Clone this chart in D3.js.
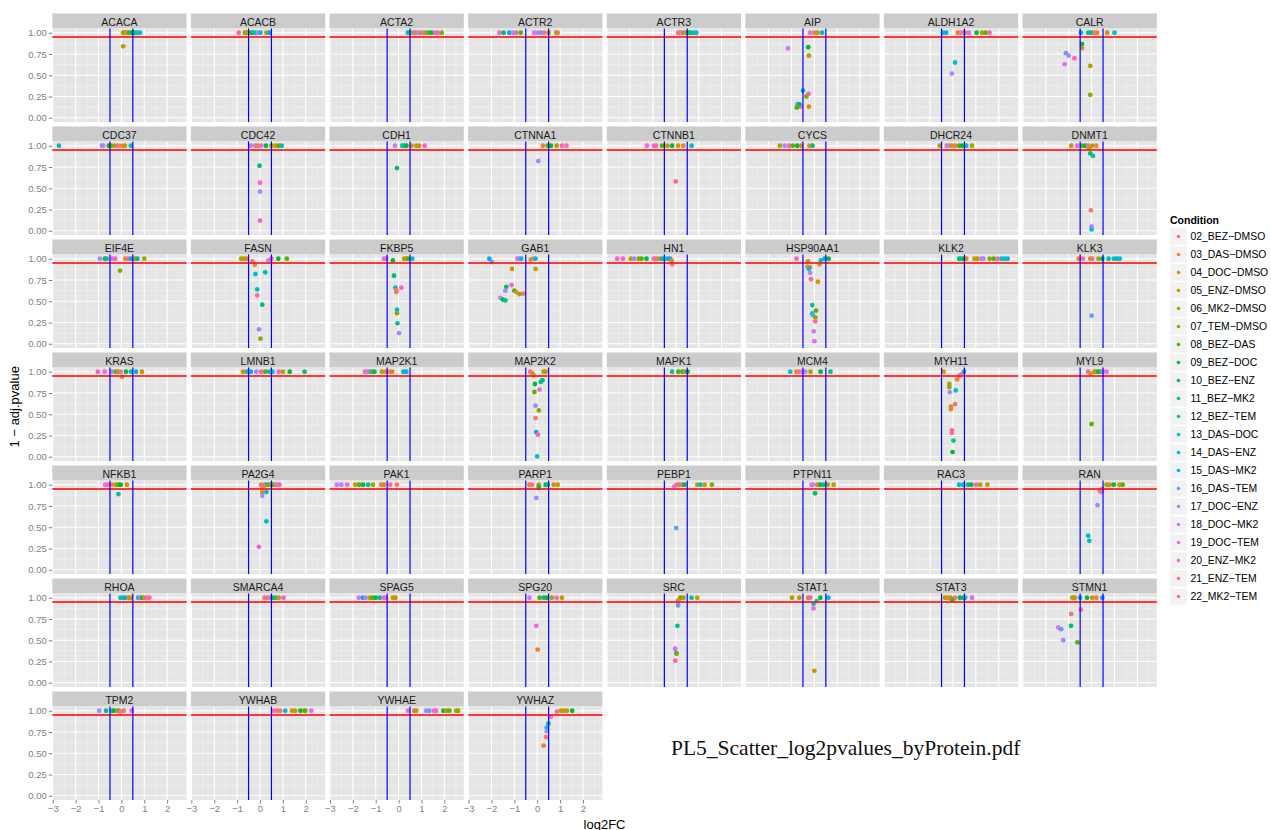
<!DOCTYPE html>
<html>
<head>
<meta charset="utf-8">
<script src="https://cdn.jsdelivr.net/npm/d3@7"></script>
<style>
  html, body { margin: 0; padding: 0; background: #ffffff; }
  svg { display: block; font-family: "Liberation Sans", Arial, Helvetica, sans-serif; }
</style>
</head>
<body>
<script>
// ---- conditions (colour legend) ----
const conditions = [
  "02_BEZ-DMSO", "03_DAS-DMSO", "04_DOC-DMSO", "05_ENZ-DMSO", "06_MK2-DMSO",
  "07_TEM-DMSO", "08_BEZ-DAS", "09_BEZ-DOC", "10_BEZ-ENZ", "11_BEZ-MK2",
  "12_BEZ-TEM", "13_DAS-DOC", "14_DAS-ENZ", "15_DAS-MK2", "16_DAS-TEM",
  "17_DOC-ENZ", "18_DOC-MK2", "19_DOC-TEM", "20_ENZ-MK2", "21_ENZ-TEM",
  "22_MK2-TEM"
];

// ---- facets ----
const proteins = [
  "ACACA", "ACACB", "ACTA2", "ACTR2", "ACTR3", "AIP", "ALDH1A2", "CALR",
  "CDC37", "CDC42", "CDH1", "CTNNA1", "CTNNB1", "CYCS", "DHCR24", "DNMT1",
  "EIF4E", "FASN", "FKBP5", "GAB1", "HN1", "HSP90AA1", "KLK2", "KLK3",
  "KRAS", "LMNB1", "MAP2K1", "MAP2K2", "MAPK1", "MCM4", "MYH11", "MYL9",
  "NFKB1", "PA2G4", "PAK1", "PARP1", "PEBP1", "PTPN11", "RAC3", "RAN",
  "RHOA", "SMARCA4", "SPAG5", "SPG20", "SRC", "STAT1", "STAT3", "STMN1",
  "TPM2", "YWHAB", "YWHAE", "YWHAZ"
];

// ---- per-protein measurements: [condition index, log2FC, 1 - adj.pvalue] ----
const ACACA = [[3,0.07,1],[5,0.12,1],[2,0.2,1],[1,0.27,1],[6,0.33,1],[7,0.45,1],[8,0.55,1],[9,0.62,1],[10,0.7,1],[11,0.82,1],[4,0.08,0.84]];
const ACACB = [[19,-0.93,1],[6,-0.66,1],[4,-0.6,1],[3,-0.52,1],[1,-0.45,1],[7,-0.36,1],[9,-0.28,1],[10,-0.18,1],[16,-0.08,1],[12,0.02,1],[2,0.28,1],[13,0.4,1]];
const ACTA2 = [[11,0.4,1],[9,0.47,1],[2,0.58,1],[15,0.68,1],[1,0.76,1],[16,0.85,1],[3,0.97,1],[17,1.08,1],[4,1.2,1],[6,1.32,1],[7,1.45,1],[18,1.6,1],[19,1.72,1],[5,1.89,1]];
const ACTR2 = [[18,-1.65,1],[8,-1.47,1],[13,-1.22,1],[15,-1.05,1],[19,-0.92,1],[6,-0.72,1],[16,-0.14,1],[17,0.0,1],[14,0.15,1],[20,0.3,1],[2,0.5,1],[4,0.83,1],[1,0.9,1]];
const ACTR3 = [[20,0.1,1],[1,0.18,1],[17,0.25,1],[4,0.35,1],[2,0.45,1],[7,0.55,1],[9,0.65,1],[10,0.78,1],[11,0.9,1]];
const AIP = [[17,-0.19,1],[1,0,1],[3,0.13,1],[10,0.33,1],[16,-1.16,0.816],[7,-0.27,0.83],[4,-0.24,0.73],[11,-0.5,0.32],[19,-0.26,0.28],[5,-0.35,0.25],[15,-0.75,0.16],[20,-0.61,0.13],[6,-0.77,0.12],[8,-0.66,0.16],[2,-0.24,0.13]];
const ALDH1A2 = [[12,-0.44,1],[13,-0.3,1],[2,0.21,1],[20,0.32,1],[16,0.45,1],[1,0.53,1],[17,0.7,1],[7,1.03,1],[4,1.27,1],[6,1.43,1],[19,1.6,1],[11,0.09,0.65],[15,-0.05,0.52]];
const CALR = [[13,-0.47,1],[9,-0.15,1],[10,-0.06,1],[8,0.03,1],[20,0.12,1],[1,0.24,1],[2,0.68,1],[11,1.0,1],[7,-0.42,0.867],[3,-0.42,0.82],[14,-1.12,0.76],[15,-1.0,0.73],[19,-0.75,0.7],[16,-1.18,0.63],[4,-0.06,0.61],[5,-0.06,0.27]];
const CDC37 = [[11,-2.73,1],[16,-0.85,1],[15,-0.8,1],[7,-0.55,1],[6,-0.45,1],[4,-0.3,1],[20,-0.15,1],[1,0.03,1],[3,0.15,1],[10,0.41,1]];
const CDC42 = [[16,-0.39,1],[20,-0.2,1],[1,-0.08,1],[17,0.05,1],[7,0.26,1],[4,0.5,1],[2,0.68,1],[6,0.82,1],[10,0.95,1],[8,-0.02,0.765],[18,0,0.565],[15,0,0.46],[19,0,0.12]];
const CDH1 = [[16,-0.16,1],[10,0.16,1],[9,0.25,1],[7,0.34,1],[1,0.57,1],[4,0.78,1],[3,0.9,1],[19,1.14,1],[8,-0.07,0.737]];
const CTNNA1 = [[1,0.25,1],[6,0.46,1],[7,0.6,1],[4,0.85,1],[19,1.08,1],[20,1.28,1],[15,0.05,0.82]];
const CTNNB1 = [[17,-1.26,1],[19,-0.96,1],[18,-0.86,1],[6,-0.6,1],[4,-0.37,1],[7,-0.16,1],[3,0.1,1],[1,0.33,1],[12,0.69,1],[20,0,0.58]];
const CYCS = [[4,-1.51,1],[15,-1.3,1],[19,-1.1,1],[6,-0.95,1],[7,-0.75,1],[3,-0.57,1],[1,-0.22,1],[8,-0.08,1]];
const DHCR24 = [[3,-0.58,1],[20,-0.27,1],[15,-0.18,1],[2,-0.05,1],[1,0.09,1],[6,0.27,1],[7,0.4,1],[11,0.58,1],[4,0.83,1]];
const DNMT1 = [[2,-0.89,1],[17,-0.63,1],[6,-0.42,1],[7,-0.28,1],[20,-0.15,1],[4,0.03,1],[1,0.2,1],[3,-0.1,0.97],[8,-0.06,0.91],[10,0.06,0.88],[0,-0.03,0.24],[16,0,0.05],[11,0,0.016]];
const EIF4E = [[15,-0.94,1],[7,-0.72,1],[9,-0.65,1],[17,-0.4,1],[19,-0.27,1],[1,0.17,1],[20,0.3,1],[13,0.42,1],[3,0.6,1],[8,0.7,1],[4,1.0,1],[5,-0.06,0.86]];
const FASN = [[4,-0.82,1],[3,-0.7,1],[2,-0.6,1],[0,-0.33,0.97],[1,-0.23,0.93],[17,0.37,0.98],[19,0.5,1],[7,0.8,1],[6,1.17,1],[11,-0.2,0.82],[9,0.23,0.84],[10,-0.12,0.64],[20,-0.12,0.57],[8,0.1,0.46],[15,-0.04,0.17],[5,0.02,0.06]];
const FKBP5 = [[17,-0.64,1],[19,-0.55,1],[7,-0.25,0.98],[4,0.25,1],[3,0.33,1],[6,0.42,1],[11,0.6,1],[8,-0.2,0.8],[10,-0.14,0.66],[20,-0.1,0.63],[1,-0.1,0.61],[18,0.12,0.66],[12,-0.07,0.4],[5,-0.07,0.36],[9,-0.05,0.24],[15,0.02,0.125]];
const GAB1 = [[13,-2.09,1],[14,-1.98,0.96],[19,-0.86,1],[17,-0.77,1],[12,-0.7,1],[4,-0.28,0.99],[20,-0.16,1],[11,-0.07,1],[2,-1.1,0.88],[3,-0.07,0.88],[18,-1.12,0.69],[8,-1.35,0.67],[15,-1.39,0.625],[6,-1.0,0.625],[1,-0.91,0.605],[5,-0.77,0.585],[0,-0.6,0.59],[16,-1.61,0.54],[7,-1.5,0.52],[9,-1.39,0.51]];
const HN1 = [[19,-2.56,1],[18,-2.31,1],[3,-1.97,1],[15,-1.82,1],[5,-1.62,1],[6,-1.5,1],[7,-1.28,1],[17,-0.97,1],[0,-0.87,1],[1,-0.77,1],[9,-0.62,1],[10,-0.5,1],[11,-0.35,1],[13,-0.25,1],[2,-0.18,0.977],[20,-0.16,0.936]];
const HSP90AA1 = [[19,-0.78,1],[10,0.28,0.98],[13,0.45,1],[7,0.62,1],[4,-0.28,0.97],[0,-0.3,0.906],[3,-0.2,0.9],[11,-0.24,0.88],[15,-0.19,0.835],[1,0.22,0.934],[20,-0.15,0.76],[2,0.15,0.73],[9,-0.09,0.455],[6,0.07,0.39],[12,-0.09,0.357],[14,-0.08,0.34],[5,0.04,0.31],[20,0.04,0.264],[16,-0.03,0.146],[17,0,0.03]];
const KLK2 = [[8,0.27,1],[9,0.36,1],[7,0.48,1],[2,0.58,1],[3,0.94,1],[4,1.06,1],[17,1.24,1],[15,1.33,1],[5,1.6,1],[6,1.78,1],[19,1.95,1],[11,2.13,1],[10,2.26,1],[12,2.39,1]];
const KLK3 = [[1,-0.56,1],[19,-0.38,1],[2,-0.06,1],[20,0.03,1],[4,0.3,1],[7,0.47,1],[10,0.74,1],[11,0.97,1],[9,1.09,1],[12,1.23,1],[14,0,0.33]];
const KRAS = [[19,-1.03,1],[17,-0.73,1],[15,-0.42,1],[6,-0.24,1],[4,-0.15,1],[20,-0.03,1],[7,0.2,1],[10,0.42,1],[13,0.64,1],[2,0.9,1],[1,0.03,0.94]];
const LMNB1 = [[2,-0.74,1],[11,-0.57,1],[13,-0.4,1],[15,-0.16,1],[19,0.05,1],[6,0.23,1],[10,0.4,1],[12,0.55,1],[18,0.82,1],[4,1.0,1],[7,1.3,1],[8,1.95,1]];
const MAP2K1 = [[19,-1.47,1],[16,-1.35,1],[14,-1.25,1],[6,-1.15,1],[8,-1.05,1],[4,-0.73,1],[1,-0.55,1],[20,-0.37,1],[2,-0.28,1],[10,0.21,1],[13,0.33,1]];
const MAP2K2 = [[20,-0.3,1],[1,-0.21,0.98],[3,-0.16,0.96],[8,0.23,0.9],[9,0.16,0.88],[4,0.28,1],[2,0.37,1],[7,-0.1,0.856],[6,-0.12,0.763],[18,0.1,0.79],[15,-0.07,0.6],[5,0.07,0.545],[0,-0.07,0.455],[13,-0.04,0.29],[19,0.03,0.26],[11,0,0.004]];
const MAPK1 = [[10,-0.16,1],[6,0.11,1],[8,0.29,1],[4,0.37,1],[7,0.52,1]];
const MCM4 = [[11,-1.05,1],[1,-0.79,1],[0,-0.66,1],[17,-0.52,1],[15,-0.4,1],[4,-0.17,1],[7,0.27,1],[9,0.7,1]];
const MYH11 = [[2,-0.41,1],[13,0.48,1],[18,0.36,0.97],[20,0.27,0.95],[1,0.18,0.91],[4,-0.16,0.856],[5,-0.16,0.82],[11,0.12,0.78],[15,-0.14,0.76],[0,0.09,0.62],[3,-0.09,0.59],[1,-0.09,0.56],[19,-0.05,0.31],[20,-0.05,0.28],[9,0.02,0.19],[7,-0.02,0.055]];
const MYL9 = [[20,-0.15,1],[1,-0.06,0.98],[4,0.12,1],[3,0.2,1],[7,0.3,1],[9,0.4,1],[19,0.5,1],[17,0.65,1],[6,0,0.385]];
const NFKB1 = [[17,-0.71,1],[19,-0.59,1],[1,-0.42,1],[4,-0.24,1],[6,-0.12,1],[7,-0.03,1],[3,0.24,1],[9,-0.13,0.89]];
const PA2G4 = [[1,0.05,1],[10,0.23,1],[6,0.35,1],[4,0.45,1],[7,0.55,1],[3,0.65,1],[17,0.75,1],[19,0.85,1],[20,0.1,0.97],[0,0.17,0.98],[2,0.1,0.91],[15,0.1,0.87],[11,0.28,0.914],[10,0.28,0.57],[18,-0.05,0.27]];
const PAK1 = [[16,-2.7,1],[15,-2.5,1],[17,-2.25,1],[3,-1.9,1],[6,-1.72,1],[7,-1.55,1],[9,-1.33,1],[4,-1.12,1],[1,-0.76,1],[2,-0.64,1],[18,-0.37,1],[0,-0.07,1]];
const PARP1 = [[1,-0.34,1],[20,-0.22,1],[4,0.07,1],[7,0.37,1],[9,0.46,1],[2,0.72,1],[3,0.9,1],[6,0.07,0.98],[8,0.07,0.96],[15,-0.04,0.845]];
const PEBP1 = [[17,-0.07,0.98],[20,0.05,1],[1,0.16,1],[19,0.28,1],[7,0.37,1],[4,0.94,1],[10,1.08,1],[3,1.26,1],[5,1.58,1],[14,0.02,0.49]];
const PTPN11 = [[17,-0.13,1],[16,-0.06,1],[2,0.13,1],[7,0.26,1],[9,0.4,1],[4,0.58,1],[3,0.84,1],[8,0.03,0.9]];
const RAC3 = [[10,0.27,1],[13,0.45,1],[9,0.66,1],[7,0.8,1],[19,1.01,1],[4,1.19,1],[3,1.5,1]];
const RAN = [[4,0.65,1],[2,0.79,1],[7,0.97,1],[3,1.22,1],[6,1.36,1],[1,0.35,0.93],[17,0.42,0.914],[20,0.47,0.95],[15,0.26,0.76],[11,-0.15,0.4],[10,-0.1,0.34]];
const RHOA = [[10,-0.04,1],[11,0.08,1],[13,0.17,1],[4,0.31,1],[2,0.41,1],[12,0.73,1],[17,0.82,1],[7,0.91,1],[3,1.0,1],[19,1.12,1],[20,1.22,1]];
const SMARCA4 = [[20,0.2,1],[1,0.32,1],[17,0.41,1],[7,0.55,1],[9,0.68,1],[4,0.82,1],[18,1.03,1]];
const SPAG5 = [[16,-1.74,1],[13,-1.56,1],[15,-1.44,1],[4,-1.26,1],[6,-1.14,1],[7,-1.0,1],[9,-0.82,1],[17,-0.64,1],[19,-0.55,1],[3,-0.25,1],[2,-0.14,1]];
const SPG20 = [[16,-0.34,1],[6,0.1,1],[9,0.28,1],[7,0.42,1],[4,0.64,1],[19,0.85,1],[3,1.08,1],[17,-0.04,0.67],[1,0.02,0.39]];
const SRC = [[6,0.2,1],[4,0.34,1],[11,0.69,1],[3,0.94,1],[0,0.1,0.95],[1,0.1,0.97],[14,0.1,0.91],[9,0.07,0.67],[17,-0.03,0.4],[13,0.02,0.35],[5,0.04,0.34],[19,-0.02,0.26]];
const STAT1 = [[4,-0.98,1],[2,-0.66,1],[3,-0.27,1],[19,-0.18,1],[7,0.26,1],[12,0.61,1],[10,-0.04,0.93],[9,0.1,0.96],[17,-0.04,0.875],[2,0,0.14]];
const STAT3 = [[3,-0.35,1],[1,-0.23,1],[4,-0.1,1],[20,0.09,1],[7,0.3,1],[8,0.45,1],[11,0.53,1],[17,0.83,1],[6,-0.03,0.97]];
const STMN1 = [[4,-0.84,1],[2,-0.73,1],[12,-0.5,1],[7,-0.2,1],[3,0.03,1],[1,0.21,1],[13,0.47,1],[19,-0.47,0.86],[0,-0.89,0.81],[8,-0.9,0.67],[16,-1.46,0.65],[14,-1.33,0.63],[15,-1.24,0.5],[6,-0.62,0.475]];
const TPM2 = [[15,-0.97,1],[9,-0.67,1],[10,-0.41,1],[7,-0.32,1],[4,-0.18,1],[6,-0.1,1],[20,-0.06,0.99],[0,0.1,1],[17,0.45,1]];
const YWHAB = [[20,0.58,1],[19,0.75,1],[1,0.88,1],[12,1.1,1],[3,1.4,1],[2,1.54,1],[7,1.77,1],[4,1.94,1],[6,1.98,1],[17,2.24,1]];
const YWHAE = [[17,0.41,1],[1,0.68,1],[3,0.77,1],[15,1.2,1],[14,1.34,1],[19,1.55,1],[18,1.64,1],[7,1.96,1],[4,2.08,1],[6,2.22,1],[3,2.52,1],[5,2.6,1]];
const YWHAZ = [[20,0.86,0.99],[4,1.04,1],[2,1.16,1],[3,1.3,1],[7,1.53,1],[17,0.6,0.93],[9,0.49,0.85],[12,0.42,0.8],[15,0.42,0.76],[0,0.39,0.69],[1,0.28,0.59]];

const panelData = [
  ACACA, ACACB, ACTA2, ACTR2, ACTR3, AIP, ALDH1A2, CALR,
  CDC37, CDC42, CDH1, CTNNA1, CTNNB1, CYCS, DHCR24, DNMT1,
  EIF4E, FASN, FKBP5, GAB1, HN1, HSP90AA1, KLK2, KLK3,
  KRAS, LMNB1, MAP2K1, MAP2K2, MAPK1, MCM4, MYH11, MYL9,
  NFKB1, PA2G4, PAK1, PARP1, PEBP1, PTPN11, RAC3, RAN,
  RHOA, SMARCA4, SPAG5, SPG20, SRC, STAT1, STAT3, STMN1,
  TPM2, YWHAB, YWHAE, YWHAZ
];

// ---- axis ticks and reference thresholds ----
const xTicks = [-3, -2, -1, 0, 1, 2];
const xMinor = [-2.5, -1.5, -0.5, 0.5, 1.5, 2.5];
const yTicks = [0, 0.25, 0.5, 0.75, 1];
const yMinor = [0.125, 0.375, 0.625, 0.875];
const pThreshold = 0.95;
const fcThresholds = [-0.5, 0.5];

// ---- hue palette (polar LUV, c = 100, l = 65) ----
function hclLuv(h, c, l) {
  const hr = h * Math.PI / 180;
  const u = c * Math.cos(hr), v = c * Math.sin(hr);
  const Xn = 95.047, Yn = 100, Zn = 108.883;
  const den = Xn + 15 * Yn + 3 * Zn;
  const un = 4 * Xn / den, vn = 9 * Yn / den;
  const Y = l > 8 ? Yn * Math.pow((l + 16) / 116, 3) : Yn * l / 903.3;
  const up = u / (13 * l) + un, vp = v / (13 * l) + vn;
  const X = Y * 9 * up / (4 * vp);
  const Z = Y * (12 - 3 * up - 20 * vp) / (4 * vp);
  const x = X / 100, y = Y / 100, z = Z / 100;
  const lin = [
    3.240479 * x - 1.537150 * y - 0.498535 * z,
    -0.969256 * x + 1.875992 * y + 0.041556 * z,
    0.055648 * x - 0.204043 * y + 1.057311 * z
  ];
  const g = lin.map(t => {
    const s = t <= 0.0031308 ? 12.92 * t : 1.055 * Math.pow(t, 1 / 2.4) - 0.055;
    return Math.round(255 * Math.max(0, Math.min(1, s)));
  });
  return d3.rgb(g[0], g[1], g[2]).formatHex();
}
const palette = conditions.map((_, i) => hclLuv(15 + i * 360 / conditions.length, 100, 65));
const color = d3.scaleOrdinal().domain(d3.range(conditions.length)).range(palette);

// hyphens are shown as minus signs, as in the PDF device output
const asMinus = s => s.replace(/-/g, "\u2212");

// ---- layout ----
const W = 1271, H = 830;
const nCol = 8;
const left0 = 52.3, pitchX = 138.6, pw = 134.3;
const top0 = 13.5, pitchY = 113, stripH = 15, ph = 93.5;
const lastRow = Math.floor((proteins.length - 1) / nCol);

const x = d3.scaleLinear().domain([-3.02, 2.85]).range([0, pw]);
const y = d3.scaleLinear().domain([-0.05, 1.05]).range([ph, 0]);

const svg = d3.select("body").append("svg")
  .attr("width", W).attr("height", H)
  .attr("viewBox", `0 0 ${W} ${H}`);

svg.append("rect").attr("width", W).attr("height", H).attr("fill", "#ffffff");

proteins.forEach((name, i) => {
  const r = Math.floor(i / nCol), c = i % nCol;
  const g = svg.append("g")
    .attr("transform", `translate(${left0 + c * pitchX},${top0 + r * pitchY})`);

  // strip
  g.append("rect").attr("width", pw).attr("height", stripH).attr("fill", "#CCCCCC");
  g.append("text")
    .attr("x", pw / 2).attr("y", stripH / 2 + 0.5)
    .attr("text-anchor", "middle").attr("dominant-baseline", "central")
    .attr("font-size", 10.5).attr("fill", "#1A1A1A")
    .text(name);

  const p = g.append("g").attr("transform", `translate(0,${stripH})`);
  p.append("rect").attr("width", pw).attr("height", ph).attr("fill", "#E5E5E5");

  // minor grid
  p.selectAll(".vmin").data(xMinor).join("line")
    .attr("x1", d => x(d)).attr("x2", d => x(d)).attr("y1", 0).attr("y2", ph)
    .attr("stroke", "#F2F2F2").attr("stroke-width", 0.6);
  p.selectAll(".hmin").data(yMinor).join("line")
    .attr("y1", d => y(d)).attr("y2", d => y(d)).attr("x1", 0).attr("x2", pw)
    .attr("stroke", "#F2F2F2").attr("stroke-width", 0.6);
  // major grid
  p.selectAll(".vmaj").data(xTicks).join("line")
    .attr("x1", d => x(d)).attr("x2", d => x(d)).attr("y1", 0).attr("y2", ph)
    .attr("stroke", "#FFFFFF").attr("stroke-width", 1.1);
  p.selectAll(".hmaj").data(yTicks).join("line")
    .attr("y1", d => y(d)).attr("y2", d => y(d)).attr("x1", 0).attr("x2", pw)
    .attr("stroke", "#FFFFFF").attr("stroke-width", 1.1);

  // points
  p.selectAll("circle").data(panelData[i]).join("circle")
    .attr("cx", d => x(d[1])).attr("cy", d => y(d[2]))
    .attr("r", 2.4)
    .attr("fill", d => color(d[0]));

  // threshold lines
  p.append("line")
    .attr("x1", 0).attr("x2", pw).attr("y1", y(pThreshold)).attr("y2", y(pThreshold))
    .attr("stroke", "#FF1A1A").attr("stroke-opacity", 0.85).attr("stroke-width", 2);
  p.selectAll(".fc").data(fcThresholds).join("line")
    .attr("x1", d => x(d)).attr("x2", d => x(d)).attr("y1", 0).attr("y2", ph)
    .attr("stroke", "#0000FF").attr("stroke-width", 1.2);

  // y axis on first column
  if (c === 0) {
    const ay = p.append("g")
      .call(d3.axisLeft(y).tickValues(yTicks).tickFormat(d3.format(".2f")).tickSize(3.5).tickPadding(2));
    ay.select(".domain").remove();
    ay.selectAll("line").attr("stroke", "#7F7F7F");
    ay.selectAll("text").attr("fill", "#7F7F7F").attr("font-size", 9.5)
      .attr("font-family", "Liberation Sans, Arial, sans-serif");
  }
  // x axis on the bottom row
  if (r === lastRow) {
    const ax = p.append("g").attr("transform", `translate(0,${ph})`)
      .call(d3.axisBottom(x).tickValues(xTicks).tickFormat(d3.format("d")).tickSize(3.5).tickPadding(2));
    ax.select(".domain").remove();
    ax.selectAll("line").attr("stroke", "#7F7F7F");
    ax.selectAll("text").attr("fill", "#7F7F7F").attr("font-size", 9.5)
      .attr("font-family", "Liberation Sans, Arial, sans-serif");
  }
});

// axis titles
const gridLeft = left0, gridRight = left0 + (nCol - 1) * pitchX + pw;
const gridTop = top0, gridBottom = top0 + lastRow * pitchY + stripH + ph;
svg.append("text")
  .attr("x", (gridLeft + gridRight) / 2).attr("y", 828.5)
  .attr("text-anchor", "middle").attr("font-size", 13).attr("fill", "#000")
  .text("log2FC");
svg.append("text")
  .attr("transform", `translate(19,${(gridTop + gridBottom) / 2}) rotate(-90)`)
  .attr("text-anchor", "middle").attr("font-size", 13).attr("fill", "#000")
  .text(asMinus("1 - adj.pvalue"));

// legend
const lg = svg.append("g").attr("transform", "translate(1170,0)");
lg.append("text").attr("x", 0).attr("y", 224)
  .attr("font-size", 10.5).attr("font-weight", "bold").attr("fill", "#000")
  .text("Condition");
const keys = lg.selectAll(".key").data(conditions).join("g")
  .attr("transform", (d, i) => `translate(0,${236.5 + i * 18 - 8.5})`);
keys.append("rect").attr("width", 17).attr("height", 17)
  .attr("fill", "#F2F2F2").attr("stroke", "#FFFFFF").attr("stroke-width", 0.6);
keys.append("circle").attr("cx", 8.5).attr("cy", 8.5).attr("r", 1.8)
  .attr("fill", (d, i) => color(i));
keys.append("text").attr("x", 20.5).attr("y", 8.5)
  .attr("dominant-baseline", "central")
  .attr("font-size", 10.4).attr("fill", "#000")
  .text(d => asMinus(d));

// file caption
svg.append("text")
  .attr("x", 671).attr("y", 755)
  .attr("font-family", "Liberation Serif, Times New Roman, serif")
  .attr("font-size", 21.5).attr("fill", "#111")
  .text("PL5_Scatter_log2pvalues_byProtein.pdf");
</script>
</body>
</html>
